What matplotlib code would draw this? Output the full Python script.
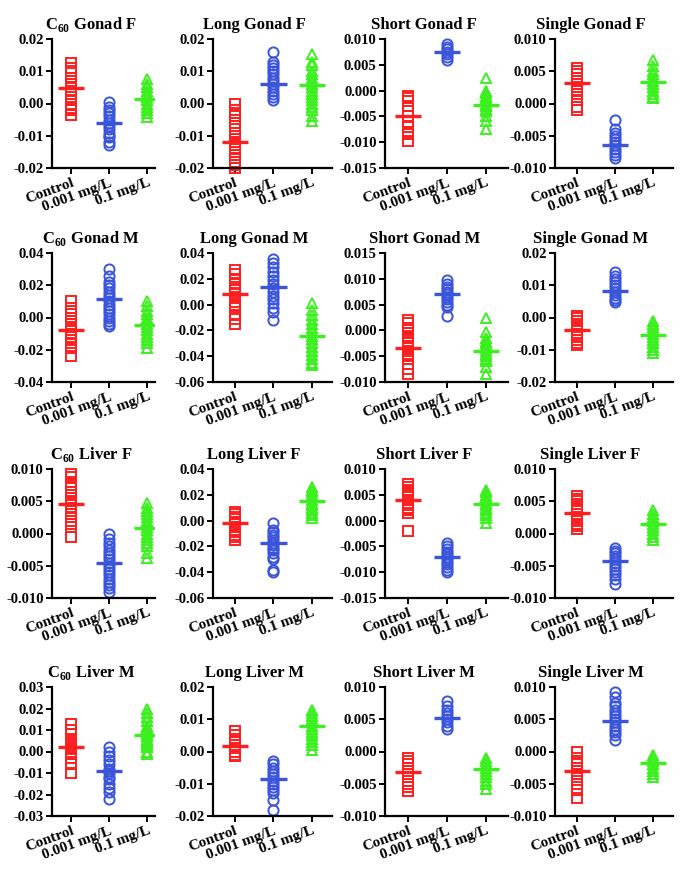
import numpy as np
import matplotlib.pyplot as plt
from matplotlib.ticker import FormatStrFormatter

plt.rcParams['font.family'] = ['Liberation Serif', 'DejaVu Serif']
plt.rcParams['font.weight'] = 'bold'
plt.rcParams['mathtext.fontset'] = 'custom'
plt.rcParams['mathtext.bf'] = 'Liberation Serif:bold'
plt.rcParams['mathtext.rm'] = 'Liberation Serif:bold'

groups = ["Control", "0.001 mg/L", "0.1 mg/L"]
colors = ["#ff1f1f", "#3a55dc", "#3cf020"]
markers = ["s", "o", "^"]

titles = [
    r"C$_{60}$ Gonad F", "Long Gonad F", "Short Gonad F", "Single Gonad F",
    r"C$_{60}$ Gonad M", "Long Gonad M", "Short Gonad M", "Single Gonad M",
    r"C$_{60}$ Liver F", "Long Liver F", "Short Liver F", "Single Liver F",
    r"C$_{60}$ Liver M", "Long Liver M", "Short Liver M", "Single Liver M",
]

# y axis: (min, max, step, decimals)
yaxes = [
    (-0.02, 0.02, 0.01, 2), (-0.02, 0.02, 0.01, 2), (-0.015, 0.010, 0.005, 3), (-0.010, 0.010, 0.005, 3),
    (-0.04, 0.04, 0.02, 2), (-0.06, 0.04, 0.02, 2), (-0.010, 0.015, 0.005, 3), (-0.02, 0.02, 0.01, 2),
    (-0.010, 0.010, 0.005, 3), (-0.06, 0.04, 0.02, 2), (-0.015, 0.010, 0.005, 3), (-0.010, 0.010, 0.005, 3),
    (-0.03, 0.03, 0.01, 2), (-0.02, 0.02, 0.01, 2), (-0.010, 0.010, 0.005, 3), (-0.010, 0.010, 0.005, 3),
]

# mean lines
means = [
    [0.0047, -0.0062, 0.0015], [-0.0118, 0.0062, 0.0057], [-0.0050, 0.0075, -0.0027], [0.0032, -0.0065, 0.0034],
    [-0.0075, 0.0115, -0.0045], [0.0082, 0.0135, -0.0240], [-0.0035, 0.0070, -0.0040], [-0.0040, 0.0082, -0.0055],
    [0.0045, -0.0045, 0.0009], [-0.0020, -0.0170, 0.0150], [0.0040, -0.0070, 0.0032], [0.0032, -0.0042, 0.0014],
    [0.0020, -0.0090, 0.0078], [0.0018, -0.0085, 0.0078], [-0.0032, 0.0052, -0.0027], [-0.0030, 0.0048, -0.0018],
]

# individual points, one list per group
c60_gonad_f = [
    [0.0125, 0.011, 0.010, 0.008, 0.007, 0.006, 0.005, 0.004, 0.003, 0.002, 0.001, 0.000, -0.0015, -0.002, -0.0035],
    [0.0005, -0.001, -0.002, -0.003, -0.004, -0.005, -0.006, -0.007, -0.008, -0.009, -0.010, -0.0105, -0.012, -0.013],
    [0.0075, 0.006, 0.005, 0.004, 0.003, 0.002, 0.001, 0.000, -0.001, -0.002, -0.003, -0.0042],
]
long_gonad_f = [
    [0.000, -0.002, -0.003, -0.004, -0.006, -0.007, -0.008, -0.009, -0.010, -0.011, -0.012, -0.013, -0.014,
     -0.015, -0.016, -0.017, -0.018, -0.019, -0.020],
    [0.016, 0.013, 0.012, 0.011, 0.010, 0.009, 0.008, 0.007, 0.006, 0.005, 0.004, 0.003, 0.002, 0.001],
    [0.0155, 0.013, 0.012, 0.010, 0.009, 0.008, 0.007, 0.006, 0.005, 0.004, 0.003, 0.002, 0.001, 0.000,
     -0.001, -0.002, -0.004, -0.0055],
]
short_gonad_f = [
    [-0.001, -0.0015, -0.002, -0.003, -0.004, -0.005, -0.006, -0.007, -0.008, -0.0085, -0.0098],
    [0.009, 0.0085, 0.008, 0.0075, 0.007, 0.0065, 0.006],
    [0.0025, 0.000, -0.0005, -0.001, -0.0015, -0.002, -0.0025, -0.003, -0.0035, -0.004, -0.005, -0.0058, -0.0075],
]
single_gonad_f = [
    [0.0055, 0.005, 0.0045, 0.004, 0.0035, 0.003, 0.0025, 0.002, 0.0015, 0.001, 0.0005, -0.0005, -0.001],
    [-0.0025, -0.004, -0.0045, -0.005, -0.0055, -0.006, -0.0065, -0.007, -0.0075, -0.008, -0.0085],
    [0.0068, 0.0058, 0.005, 0.0045, 0.004, 0.0035, 0.003, 0.0025, 0.002, 0.0015, 0.001, 0.0008],
]
c60_gonad_m = [
    [0.010, 0.006, 0.004, 0.002, 0.000, -0.002, -0.004, -0.006, -0.008, -0.010, -0.012, -0.014, -0.016, -0.019, -0.024],
    [0.030, 0.026, 0.022, 0.020, 0.018, 0.016, 0.014, 0.012, 0.010, 0.008, 0.006, 0.004, 0.002, 0.000,
     -0.002, -0.004, -0.005],
    [0.010, 0.007, 0.004, 0.002, 0.000, -0.002, -0.004, -0.006, -0.008, -0.010, -0.012, -0.014, -0.016, -0.019],
]
long_gonad_m = [
    [0.027, 0.024, 0.020, 0.017, 0.014, 0.011, 0.008, 0.005, 0.002, 0.000, -0.002, -0.008, -0.011, -0.015],
    [0.035, 0.032, 0.029, 0.025, 0.022, 0.019, 0.016, 0.013, 0.010, 0.007, 0.004, 0.001, -0.003, -0.006, -0.012],
    [0.001, -0.004, -0.008, -0.012, -0.015, -0.018, -0.021, -0.024, -0.027, -0.030, -0.033, -0.036, -0.039,
     -0.042, -0.045, -0.047],
]
short_gonad_m = [
    [0.002, 0.0015, 0.0005, 0.000, -0.0005, -0.001, -0.0015, -0.002, -0.0025, -0.003, -0.0035, -0.004, -0.005,
     -0.0055, -0.0065, -0.0075, -0.0085],
    [0.0098, 0.009, 0.0085, 0.008, 0.0075, 0.007, 0.0065, 0.006, 0.0055, 0.005, 0.0045, 0.0028],
    [0.0025, -0.0003, -0.0015, -0.002, -0.0025, -0.003, -0.0035, -0.004, -0.0045, -0.005, -0.0055, -0.006,
     -0.007, -0.0085],
]
single_gonad_m = [
    [0.0005, 0.000, -0.001, -0.002, -0.003, -0.004, -0.005, -0.006, -0.007, -0.008, -0.0085],
    [0.014, 0.013, 0.012, 0.011, 0.010, 0.009, 0.008, 0.007, 0.006, 0.0055, 0.0048],
    [-0.001, -0.002, -0.003, -0.004, -0.005, -0.006, -0.007, -0.008, -0.009, -0.010, -0.011],
]
c60_liver_f = [
    [0.0093, 0.0088, 0.008, 0.0075, 0.007, 0.0065, 0.006, 0.0055, 0.005, 0.0045, 0.004, 0.0035, 0.003,
     0.0025, 0.002, 0.0015, 0.001, -0.0005],
    [-0.0001, -0.0008, -0.0015, -0.002, -0.0025, -0.003, -0.0035, -0.004, -0.0045, -0.005, -0.0055, -0.006,
     -0.0065, -0.007, -0.0075, -0.008, -0.0085, -0.009],
    [0.0048, 0.004, 0.0035, 0.003, 0.0025, 0.002, 0.0015, 0.001, 0.0005, 0.000, -0.0005, -0.001, -0.0015,
     -0.002, -0.003, -0.0038],
]
long_liver_f = [
    [0.007, 0.005, 0.003, 0.001, -0.001, -0.003, -0.005, -0.007, -0.009, -0.011, -0.013, -0.015],
    [-0.002, -0.007, -0.009, -0.011, -0.013, -0.015, -0.017, -0.019, -0.021, -0.023, -0.025, -0.028, -0.030,
     -0.038, -0.040],
    [0.026, 0.024, 0.022, 0.020, 0.018, 0.016, 0.014, 0.012, 0.010, 0.008, 0.006, 0.004, 0.002],
]
short_liver_f = [
    [0.007, 0.0065, 0.006, 0.0055, 0.005, 0.0045, 0.004, 0.0035, 0.003, 0.0025, 0.002, 0.0015, -0.002],
    [-0.0043, -0.005, -0.0055, -0.006, -0.0065, -0.007, -0.0075, -0.008, -0.0085, -0.009, -0.0095, -0.010],
    [0.006, 0.0055, 0.005, 0.0045, 0.004, 0.0035, 0.003, 0.0025, 0.002, 0.0015, 0.001, 0.0005, -0.0005],
]
single_liver_f = [
    [0.0058, 0.0053, 0.005, 0.0045, 0.004, 0.0035, 0.003, 0.0025, 0.002, 0.0015, 0.0012, 0.0007],
    [-0.0022, -0.0027, -0.003, -0.0035, -0.004, -0.0045, -0.005, -0.0055, -0.006, -0.0065, -0.007, -0.0078],
    [0.0036, 0.003, 0.0025, 0.002, 0.0015, 0.001, 0.0005, 0.000, -0.0005, -0.001],
]
c60_liver_m = [
    [0.013, 0.010, 0.008, 0.006, 0.005, 0.004, 0.003, 0.002, 0.001, 0.000, -0.001, -0.003, -0.006, -0.010],
    [0.002, 0.000, -0.002, -0.004, -0.006, -0.008, -0.009, -0.010, -0.012, -0.013, -0.015, -0.017, -0.019, -0.022],
    [0.020, 0.018, 0.016, 0.014, 0.012, 0.011, 0.010, 0.009, 0.008, 0.007, 0.006, 0.005, 0.004, 0.003,
     0.002, 0.000, -0.001],
]
long_liver_m = [
    [0.0065, 0.005, 0.004, 0.003, 0.002, 0.001, 0.000, -0.001, -0.0015],
    [-0.003, -0.004, -0.005, -0.006, -0.007, -0.008, -0.009, -0.010, -0.011, -0.012, -0.013, -0.015, -0.018],
    [0.013, 0.012, 0.011, 0.010, 0.009, 0.008, 0.007, 0.006, 0.005, 0.004, 0.003, 0.002, 0.0005],
]
short_liver_m = [
    [-0.001, -0.0015, -0.002, -0.0025, -0.003, -0.0035, -0.004, -0.0045, -0.005, -0.0055, -0.0062],
    [0.0078, 0.007, 0.0065, 0.006, 0.0055, 0.005, 0.0045, 0.004, 0.0035],
    [-0.001, -0.0015, -0.002, -0.0025, -0.003, -0.0035, -0.004, -0.0045, -0.005, -0.0058],
]
single_liver_m = [
    [0.000, -0.001, -0.0015, -0.002, -0.0025, -0.003, -0.0035, -0.004, -0.005, -0.006, -0.0072],
    [0.0092, 0.0085, 0.0075, 0.007, 0.0065, 0.006, 0.0055, 0.005, 0.0045, 0.004, 0.0035, 0.003, 0.0025, 0.0018],
    [-0.0005, -0.001, -0.0015, -0.002, -0.0025, -0.003, -0.0035, -0.004],
]

panels = [c60_gonad_f, long_gonad_f, short_gonad_f, single_gonad_f,
          c60_gonad_m, long_gonad_m, short_gonad_m, single_gonad_m,
          c60_liver_f, long_liver_f, short_liver_f, single_liver_f,
          c60_liver_m, long_liver_m, short_liver_m, single_liver_m]

W, H = 685, 876
fig = plt.figure(figsize=(W / 100, H / 100), dpi=100)

# layout in pixels
col_left = [52, 213, 385, 555]
col_width = [103, 119, 123, 118]
col_xlim = [(0.5, 3.2), (0.43, 3.52), (0.4, 3.57), (0.42, 3.53)]
title_x = [0.38, 0.345, 0.32, 0.3]
row_top = [39, 253, 469, 687]
row_height = 129

for k in range(16):
    r, c = divmod(k, 4)
    ax = fig.add_axes([col_left[c] / W, 1 - (row_top[r] + row_height) / H,
                       col_width[c] / W, row_height / H])
    for g in range(3):
        vals = panels[k][g]
        ax.plot(np.full(len(vals), g + 1), vals, linestyle='none', marker=markers[g],
                markersize=7.3, markerfacecolor='none', markeredgecolor=colors[g],
                markeredgewidth=1.4, clip_on=False)
        ax.hlines(means[k][g], g + 1 - 0.34, g + 1 + 0.34, color=colors[g], linewidth=2.4, zorder=3)

    lo, hi, step, dec = yaxes[k]
    ax.set_ylim(lo, hi)
    ax.set_yticks(np.arange(lo, hi + step / 2, step))
    ax.yaxis.set_major_formatter(FormatStrFormatter('%.' + str(dec) + 'f'))
    ax.set_xlim(*col_xlim[c])
    ax.set_xticks([1, 2, 3])
    ax.set_xticklabels(groups, rotation=20, ha='right', va='top', rotation_mode='anchor')
    for lab in ax.get_yticklabels():
        lab.set_fontweight('bold')
        lab.set_fontsize(10.5)
    for lab in ax.get_xticklabels():
        lab.set_fontweight('bold')
        lab.set_fontsize(11)
    ax.spines['top'].set_visible(False)
    ax.spines['right'].set_visible(False)
    ax.spines['left'].set_linewidth(1.6)
    ax.spines['bottom'].set_linewidth(1.6)
    ax.tick_params(width=1.4, length=4, pad=2)
    ax.set_title(titles[k], fontsize=12, fontweight='bold', x=title_x[c], pad=7)

fig.savefig("out.png", dpi=100)
